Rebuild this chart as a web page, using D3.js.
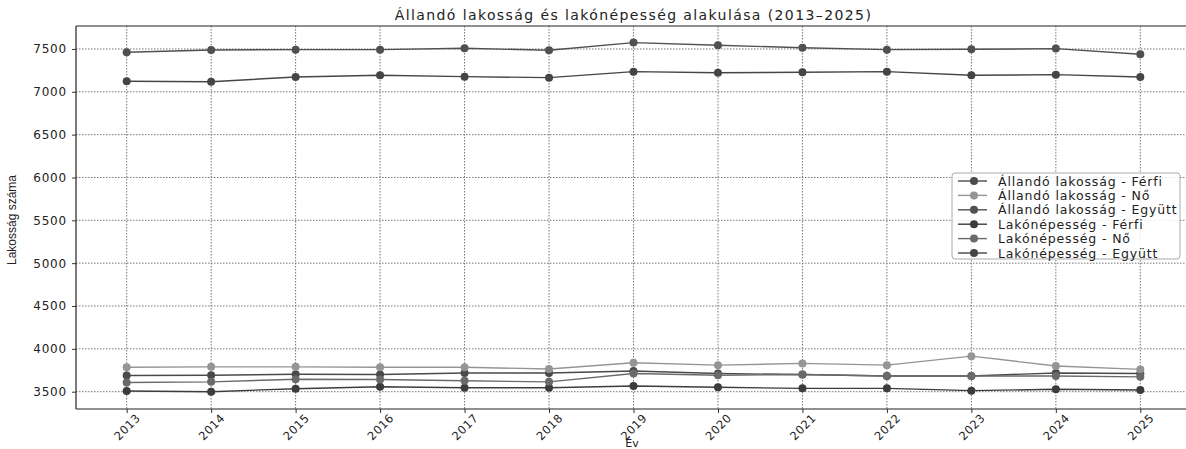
<!DOCTYPE html>
<html>
<head>
<meta charset="utf-8">
<script src="https://cdn.jsdelivr.net/npm/d3@7"></script>
<style>
  html, body { margin: 0; padding: 0; background: #fff; }
  svg { display: block; }
  text { font-family: "DejaVu Sans", sans-serif; fill: #222; }
</style>
</head>
<body>
<svg id="chart" width="1186" height="449"></svg>
<script>
// ---- data ----
const years = [2013, 2014, 2015, 2016, 2017, 2018, 2019, 2020, 2021, 2022, 2023, 2024, 2025];
const allandoFerfi  = [3689, 3692, 3704, 3700, 3719, 3719, 3742, 3712, 3700, 3684, 3684, 3719, 3712];
const allandoNo     = [3785, 3790, 3790, 3785, 3785, 3765, 3838, 3810, 3830, 3810, 3915, 3800, 3760];
const allandoEgyutt = [7461, 7488, 7492, 7492, 7508, 7485, 7574, 7543, 7515, 7492, 7496, 7504, 7438];
const lakoFerfi     = [3508, 3500, 3535, 3558, 3546, 3546, 3566, 3551, 3539, 3539, 3512, 3528, 3520];
const lakoNo        = [3608, 3615, 3646, 3643, 3627, 3615, 3712, 3692, 3700, 3684, 3684, 3684, 3673];
const lakoEgyutt    = [7123, 7118, 7173, 7193, 7177, 7165, 7235, 7223, 7228, 7235, 7193, 7200, 7173];
const yTicks = [3500, 4000, 4500, 5000, 5500, 6000, 6500, 7000, 7500];
const seriesNames = [
  "Állandó lakosság - Férfi", "Állandó lakosság - Nő", "Állandó lakosság - Együtt",
  "Lakónépesség - Férfi", "Lakónépesség - Nő", "Lakónépesség - Együtt"
];
const seriesValues = [allandoFerfi, allandoNo, allandoEgyutt, lakoFerfi, lakoNo, lakoEgyutt];
const colors = ["#4a4a4a", "#959595", "#505050", "#3c3c3c", "#6a6a6a", "#454545"];
const titleText = "Állandó lakosság és lakónépesség alakulása (2013–2025)";

// ---- layout ----
const svg = d3.select("#chart");
const m = { left: 76, top: 26, right: 1191, bottom: 409 };

const x = d3.scaleLinear().domain([2012.4, 2025.6]).range([m.left, m.right]);
const y = d3.scaleLinear().domain([3298, 7768]).range([m.bottom, m.top]);

const defs = svg.append("defs");
defs.append("clipPath").attr("id", "clip")
  .append("rect").attr("x", m.left).attr("y", m.top)
  .attr("width", m.right - m.left).attr("height", m.bottom - m.top);

// grid
const grid = svg.append("g").attr("clip-path", "url(#clip)");
grid.selectAll("line.gx").data(years).join("line")
  .attr("x1", d => x(d)).attr("x2", d => x(d))
  .attr("y1", m.top).attr("y2", m.bottom)
  .attr("stroke", "#777").attr("stroke-width", 1).attr("stroke-dasharray", "1.5,1.5");
grid.selectAll("line.gy").data(yTicks).join("line")
  .attr("x1", m.left).attr("x2", m.right)
  .attr("y1", d => y(d)).attr("y2", d => y(d))
  .attr("stroke", "#777").attr("stroke-width", 1).attr("stroke-dasharray", "1.5,1.5");

// axes
const yAxis = d3.axisLeft(y).tickValues(yTicks).tickSize(4).tickPadding(5).tickFormat(d3.format("d"));
const gy = svg.append("g").attr("transform", `translate(${m.left},0)`).call(yAxis);
gy.select(".domain").remove();
gy.selectAll("text").style("font-size", "12px").style("letter-spacing", "0.8px");
gy.selectAll("line").attr("stroke", "#333");

const xAxis = d3.axisBottom(x).tickValues(years).tickSize(4).tickFormat(d3.format("d"));
const gx = svg.append("g").attr("transform", `translate(0,${m.bottom})`).call(xAxis);
gx.select(".domain").remove();
gx.selectAll("line").attr("stroke", "#333");
gx.selectAll("text")
  .style("font-size", "11.5px").style("letter-spacing", "0.5px")
  .attr("text-anchor", "middle")
  .attr("dy", null).attr("y", null)
  .attr("dominant-baseline", "central")
  .attr("transform", "translate(0,18) rotate(-45)");

// spines
svg.append("line").attr("x1", m.left).attr("x2", m.left).attr("y1", m.top).attr("y2", m.bottom)
  .attr("stroke", "#222").attr("stroke-width", 1.2);
svg.append("line").attr("x1", m.left).attr("x2", m.right).attr("y1", m.top).attr("y2", m.top)
  .attr("stroke", "#222").attr("stroke-width", 1.2);
svg.append("line").attr("x1", m.left).attr("x2", m.right).attr("y1", m.bottom).attr("y2", m.bottom)
  .attr("stroke", "#222").attr("stroke-width", 1.2);

// series
const line = d3.line().x((d, i) => x(years[i])).y(d => y(d));
const plot = svg.append("g").attr("clip-path", "url(#clip)");
seriesValues.forEach((vals, si) => {
  plot.append("path").datum(vals)
    .attr("d", line).attr("fill", "none")
    .attr("stroke", colors[si]).attr("stroke-width", 1.4);
  plot.selectAll(null).data(vals).join("circle")
    .attr("cx", (d, i) => x(years[i])).attr("cy", d => y(d)).attr("r", 4)
    .attr("fill", colors[si]);
});

// title & labels
svg.append("text").attr("x", (m.left + m.right) / 2).attr("y", 20)
  .attr("text-anchor", "middle").style("font-size", "14px").style("letter-spacing", "1.4px")
  .text(titleText);
svg.append("text").attr("x", 632).attr("y", 447).attr("text-anchor", "middle")
  .style("font-size", "11px").text("Év");
svg.append("text").attr("transform", "translate(16,220) rotate(-90)")
  .attr("text-anchor", "middle")
  .style("font-family", "'Liberation Sans', sans-serif").style("font-size", "12px")
  .text("Lakosság száma");

// legend
const lg = svg.append("g").attr("transform", "translate(952,173)");
lg.append("rect").attr("width", 228).attr("height", 86).attr("rx", 3)
  .attr("fill", "#fff").attr("fill-opacity", 0.85)
  .attr("stroke", "#aaa").attr("stroke-width", 1);
seriesNames.forEach((name, i) => {
  const cy = 8 + i * 14.4;
  lg.append("line").attr("x1", 6).attr("x2", 35).attr("y1", cy).attr("y2", cy)
    .attr("stroke", colors[i]).attr("stroke-width", 1.4);
  lg.append("circle").attr("cx", 22).attr("cy", cy).attr("r", 4).attr("fill", colors[i]);
  lg.append("text").attr("x", 46).attr("y", cy).attr("dominant-baseline", "central")
    .style("font-size", "12.5px").style("letter-spacing", "0.85px").text(name);
});
</script>
</body>
</html>
